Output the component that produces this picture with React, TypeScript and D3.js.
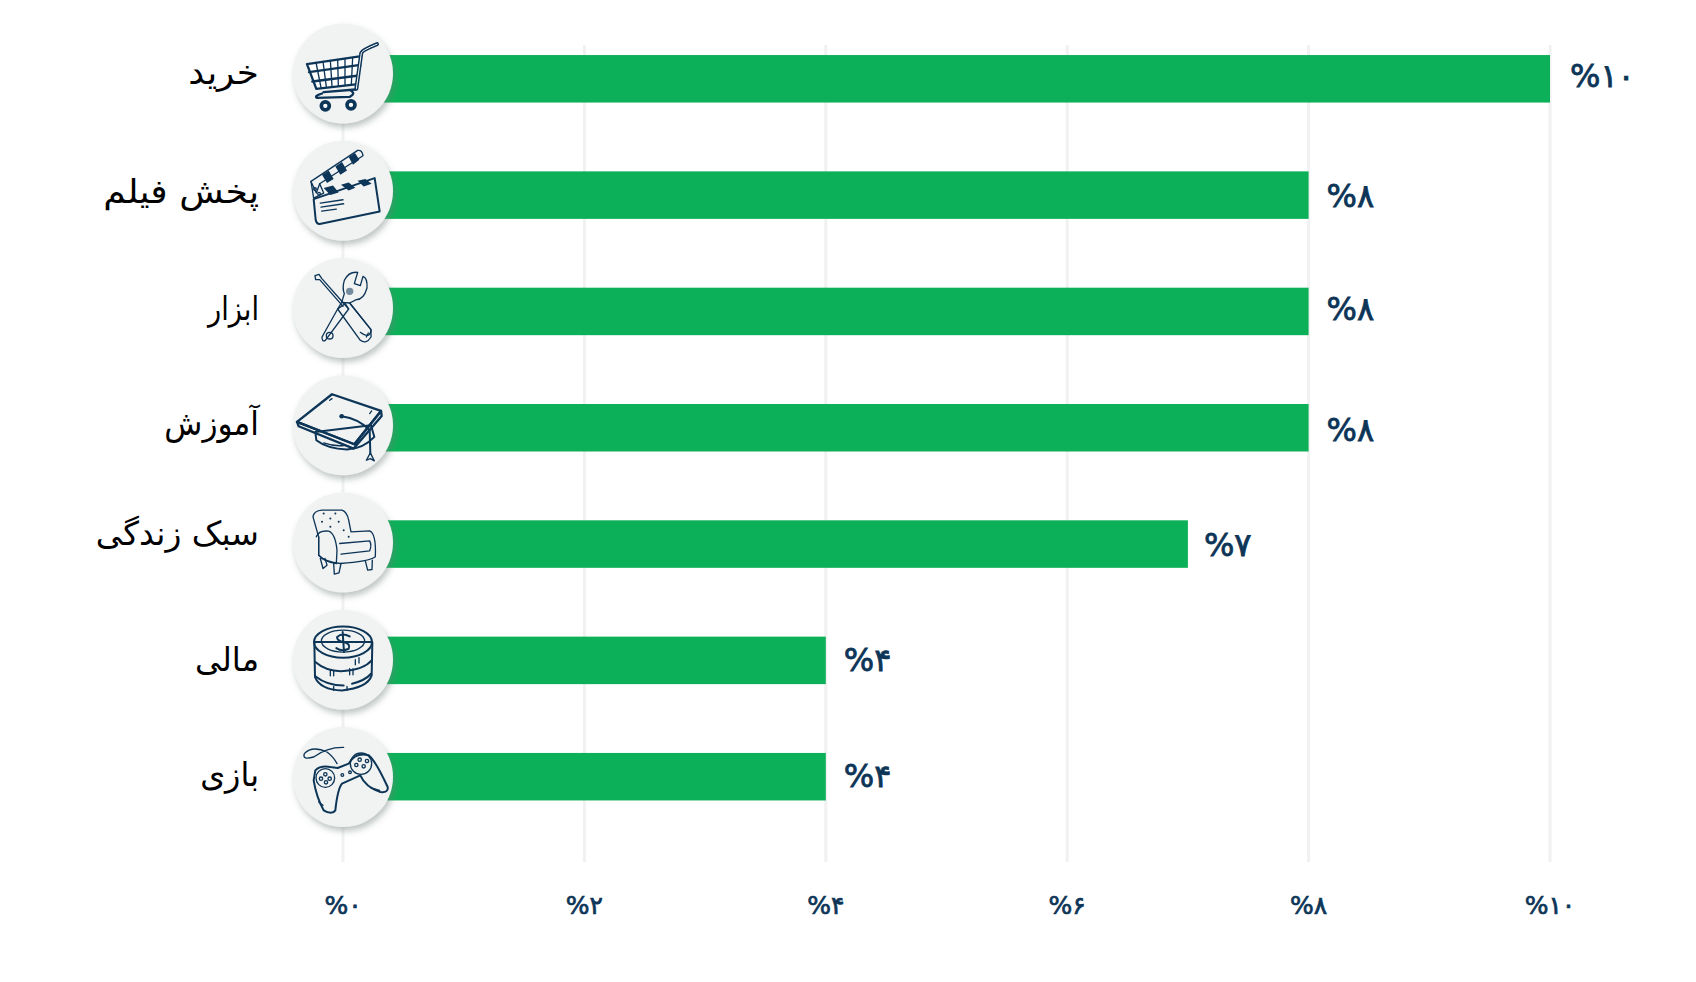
import React from "react";
import * as d3 from "d3";

const categories = ["خرید", "پخش فیلم", "ابزار", "آموزش", "سبک زندگی", "مالی", "بازی"];
const values = [10, 8, 8, 8, 7, 4, 4];
const valueLabels = ["%۱۰", "%۸", "%۸", "%۸", "%۷", "%۴", "%۴"];
const ticks = [0, 2, 4, 6, 8, 10];
const tickLabels = ["%۰", "%۲", "%۴", "%۶", "%۸", "%۱۰"];

const INK = "#0d3557";
const GREEN = "#0cb058";
const W = 1696, H = 982;

const x = d3.scaleLinear().domain([0, 10]).range([343, 1550]);
const barY = d3.scaleLinear().domain([0, 6]).range([78.8, 776.7]);
const circY = d3.scaleLinear().domain([0, 6]).range([73.5, 777]);

// small per-row nudges seen in the reference's text placement
const labelDy = [-2, 1, 2, 0, -6, 4, 2];
const labelStretch = [1.085, 1.1, 0.825, 0.946, 1, 0.98, 0.964];
const valueDy = [-4, 0, -3, 1, 0, -1, -2];
const valueDx = [2, 0, 0, 0, -2, 0, 0];

const line = { fill: "none", stroke: INK, strokeWidth: 6, strokeLinecap: "round" as const, strokeLinejoin: "round" as const };
const thin = { ...line, strokeWidth: 4 };

function Cart() {
  return <g>
    <path d="M80 162L243 138L232 222L108 236Z" fill="#fff" />
    <path d="M80 162L243 138M86 186L240 164M96 214L236 196M108 236L232 222M80 162L108 236" {...line} strokeWidth={7} />
    <path d="M107 157L122 232M128 154L138 230M150 151L155 228M172 148L174 226M194 145L194 224M217 142L213 222" {...thin} />
    <path d="M228 236L243 128Q246 120 290 102" {...line} strokeWidth={12} />
    <path d="M228 236L243 128Q246 120 290 102" fill="none" stroke="#fff" strokeWidth={3} strokeLinecap="round" />
    <path d="M225 238L130 246M110 263L208 260Q228 250 210 240M110 263Q100 258 125 250" {...line} strokeWidth={7} />
    <circle cx={135} cy={287} r={12} fill="#fff" stroke={INK} strokeWidth={11} />
    <circle cx={212} cy={284} r={12} fill="#fff" stroke={INK} strokeWidth={11} />
  </g>;
}

function Clapper() {
  return <g>
    <path d="M100 568L283 505L298 605L118 643Q108 642 106 630Z" fill="#fff" {...line} />
    <path d="M130 535L150 556L175 548L158 527ZM182 525L205 542L225 534L205 518ZM232 513L250 530L274 522L255 508Z" fill={INK} />
    <path d="M120 580L188 570M122 592L190 582M124 604L168 598" {...thin} />
    <path d="M92 515L232 422Q246 420 248 438L118 522L108 550Z" fill="#fff" {...thin} />
    <path d="M125 495L145 482L160 508L140 520ZM165 470L185 457L200 482L180 495ZM205 442L224 430L237 450L218 465Z" fill={INK} />
    <path d="M92 515L100 565L130 550L118 522" fill="#fff" {...thin} />
    <circle cx={104} cy={538} r={4} fill="#fff" {...thin} />
    <circle cx={116} cy={552} r={4} fill="#fff" {...thin} />
  </g>;
}

function Tools() {
  return <g>
    <path d="M188 170L118 90L106 90L104 78L116 74L124 86L205 178" fill="#fff" {...thin} />
    <path d="M240 248Q270 270 272 240L208 160L228 150Q250 150 260 115Q262 85 248 80L240 108L222 102L232 68Q205 65 192 92Q185 115 192 132L184 158" fill="#fff" {...thin} />
    <path d="M208 160L184 158L172 178L240 272Q258 285 272 262L272 240Z" fill="#fff" {...thin} />
    <path d="M172 178L195 162L205 178L135 272Q125 278 125 262Z" fill="#fff" {...thin} />
    <circle cx={148} cy={258} r={10} fill="#fff" {...thin} />
    <circle cx={208} cy={125} r={11} fill={INK} opacity={0.55} />
    <path d="M258 262L264 250" {...thin} />
  </g>;
}

function Cap() {
  return <g>
    <path d="M105 545L108 570Q140 595 200 598Q250 595 282 560L272 525Z" fill="#fff" {...line} />
    <path d="M130 578Q165 590 195 585" {...thin} />
    <path d="M50 515L55 528L220 595L304 497L302 482L222 582Z" fill="#fff" {...line} strokeWidth={7} />
    <path d="M155 432L302 482L222 582L50 515Z" fill="#fff" {...line} strokeWidth={7} />
    <path d="M184 498Q235 505 268 540L270 610" {...line} />
    <circle cx={184} cy={498} r={7} fill={INK} />
    <path d="M258 630L270 608L282 632L270 625Z" fill={INK} {...thin} />
    <path d="M148 450L155 445M268 490L274 482" {...thin} />
  </g>;
}

function Chair() {
  return <g>
    <path d="M120 925L128 955L140 945L134 925M160 940L162 972L176 968L182 940M255 932L262 960L275 958L276 930" fill="#fff" {...thin} />
    <path d="M115 860L98 800Q100 782 125 780L185 780Q200 785 205 810L212 845L268 842Q288 850 285 920Q265 935 180 940Q135 935 115 915Z" fill="#fff" {...thin} />
    <path d="M108 860Q115 840 145 843Q165 850 170 900L168 940" fill="none" {...thin} />
    <path d="M115 860L115 915Q130 935 168 940" fill="none" {...thin} />
    <path d="M178 880L268 872Q275 885 268 902L182 912" fill="none" {...thin} />
    <path d="M125 815h.1M150 805h.1M175 815h.1M130 790h.1M165 790h.1M190 840h.1M205 860h.1M150 830h.1" {...line} />
  </g>;
}

function Coins() {
  return <g>
    <path d="M102 125L104 230Q120 268 185 270Q262 262 274 225L276 125Z" fill="#fff" {...line} />
    <ellipse cx={188} cy={125} rx={87} ry={47} fill="#fff" {...line} />
    <ellipse cx={188} cy={122} rx={65} ry={33} fill="none" {...thin} />
    <path d="M208 108Q185 95 170 110Q170 122 190 125Q212 130 205 145Q185 155 168 143M187 95L191 155" {...line} />
    <path d="M105 185Q140 215 190 212Q250 208 274 180M106 228Q140 255 190 255M215 250Q255 240 272 220" {...line} />
    <path d="M150 210v16M160 210v16M208 205v18M218 205v18M225 178v15M236 172v16M160 258v12M200 258v12" {...thin} />
  </g>;
}

function Pad() {
  return <g>
    <path d="M190 441Q140 440 100 470Q65 480 72 460Q95 435 140 455Q160 470 170 490" {...line} strokeWidth={4} />
    <path d="M105 510Q120 495 150 500L172 503L205 490Q225 455 265 465Q285 480 322 560Q325 578 300 575Q255 560 240 525L185 550Q172 565 165 630Q155 645 130 630Q108 590 100 540Z" fill="#fff" {...line} />
    <circle cx={135} cy={533} r={28} fill="none" {...thin} />
    <circle cx={242} cy={490} r={32} fill="none" {...thin} />
    <circle cx={135} cy={522} r={5} fill="none" {...thin} />
    <circle cx={122} cy={535} r={5} fill="none" {...thin} />
    <circle cx={148} cy={535} r={5} fill="none" {...thin} />
    <circle cx={137} cy={546} r={5} fill="none" {...thin} />
    <circle cx={238} cy={478} r={5} fill="none" {...thin} />
    <circle cx={260} cy={482} r={5} fill="none" {...thin} />
    <circle cx={228} cy={494} r={5} fill="none" {...thin} />
    <circle cx={250} cy={498} r={5} fill="none" {...thin} />
    <circle cx={186} cy={524} r={4} fill="none" {...thin} />
    <circle cx={209} cy={516} r={4} fill="none" {...thin} />
    <path d="M270 562L298 570M115 605L128 615" {...thin} />
  </g>;
}

// Each icon is authored in the coordinates of a 3x crop, with its own centre.
const icons = [
  { C: Cart, cx: 188, cy: 190 },
  { C: Clapper, cx: 188, cy: 543 },
  { C: Tools, cx: 188, cy: 175 },
  { C: Cap, cx: 188, cy: 525 },
  { C: Chair, cx: 188, cy: 877 },
  { C: Coins, cx: 188, cy: 178 },
  { C: Pad, cx: 188, cy: 530 },
];

const band = 47.5;

export default function App() {
  return (
    <svg width={W} height={H} style={{ position: "absolute", left: 0, top: 0, background: "#fff" }}>
      <defs>
        <filter id="sh" x="-30%" y="-30%" width="170%" height="170%">
          <feDropShadow dx={2} dy={4} stdDeviation={3} floodColor="#6b7f78" floodOpacity={0.45} />
        </filter>
      </defs>
      {ticks.map((t) => (
        <line key={t} x1={x(t)} x2={x(t)} y1={45} y2={862} stroke="#f1f1f1" strokeWidth={3} />
      ))}
      {values.map((v, i) => (
        <rect key={i} x={x(0)} y={barY(i) - band / 2} width={x(v) - x(0)} height={band} fill={GREEN} />
      ))}
      {values.map((v, i) => {
        const { C, cx, cy } = icons[i];
        return (
          <g key={i} transform={`translate(${x(0)},${circY(i)})`}>
            <circle r={50} fill="#f1f2f2" filter="url(#sh)" />
            <g transform={`scale(${1 / 3}) translate(${-cx},${-cy})`}><C /></g>
          </g>
        );
      })}
      {categories.map((c, i) => (
        <text key={c} transform={`translate(259,${barY(i) + 7 + labelDy[i]}) scale(${labelStretch[i]},1)`} textAnchor="start" fontFamily="'DejaVu Sans'" fontSize={33} fill="#000" style={{ direction: "rtl" }}>
          {c}
        </text>
      ))}
      {values.map((v, i) => (
        <text key={i} x={x(v) + 18 + valueDx[i]} y={barY(i) + 12 + valueDy[i]} fontFamily="'DejaVu Sans'" fontSize={32} fill={INK} stroke={INK} strokeWidth={0.8} style={{ direction: "ltr" }}>
          {valueLabels[i]}
        </text>
      ))}
      {ticks.map((t, i) => (
        <text key={t} x={x(t)} y={914} textAnchor="middle" fontFamily="'DejaVu Sans'" fontSize={25} fill={INK} stroke={INK} strokeWidth={0.7} style={{ direction: "ltr" }}>
          {tickLabels[i]}
        </text>
      ))}
    </svg>
  );
}
